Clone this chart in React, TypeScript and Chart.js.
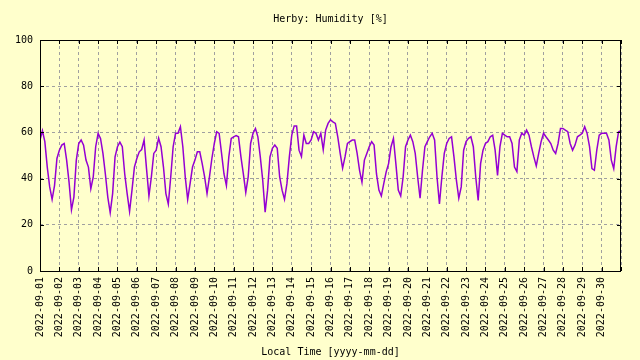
import React, { useEffect, useRef } from "react";
import { Chart, registerables } from "chart.js";

Chart.register(...registerables);

// Date tick labels (one per day, midnight)
const dayLabels = [
  "2022-09-01", "2022-09-02", "2022-09-03", "2022-09-04", "2022-09-05",
  "2022-09-06", "2022-09-07", "2022-09-08", "2022-09-09", "2022-09-10",
  "2022-09-11", "2022-09-12", "2022-09-13", "2022-09-14", "2022-09-15",
  "2022-09-16", "2022-09-17", "2022-09-18", "2022-09-19", "2022-09-20",
  "2022-09-21", "2022-09-22", "2022-09-23", "2022-09-24", "2022-09-25",
  "2022-09-26", "2022-09-27", "2022-09-28", "2022-09-29", "2022-09-30",
];

// Sampling interval of the readings, hours
const sampleHours = 3;

// Relative humidity [%], every 3 hours starting 2022-09-01 00:00
const humidity = [
  56.7, 60.7, 56.0, 45.0, 36.4, 31.0, 37.0, 48.7, // 09-01
  52.3, 54.5, 55.2, 48.0, 38.5, 26.5, 32.0, 48.0, // 09-02
  55.2, 56.7, 54.5, 48.0, 45.0, 35.6, 40.7, 53.8, // 09-03
  59.6, 57.4, 50.9, 42.0, 32.0, 25.3, 33.5, 49.4, // 09-04
  53.8, 55.8, 53.8, 42.0, 33.5, 25.8, 35.0, 45.0, // 09-05
  48.7, 51.6, 52.6, 56.7, 44.3, 32.5, 40.7, 50.9, // 09-06
  52.3, 57.5, 53.8, 45.0, 33.5, 29.0, 40.7, 53.8, // 09-07
  59.6, 59.6, 62.5, 53.8, 40.7, 31.0, 37.8, 45.0, // 09-08
  48.0, 51.6, 51.6, 46.5, 40.7, 33.5, 40.7, 48.7, // 09-09
  55.2, 60.3, 59.6, 50.9, 42.0, 37.0, 49.4, 57.4, // 09-10
  58.1, 58.6, 58.1, 49.4, 42.0, 34.0, 40.7, 55.2, // 09-11
  59.6, 61.7, 58.1, 49.4, 39.3, 25.5, 35.0, 49.4, // 09-12
  53.1, 54.5, 53.1, 40.7, 35.0, 31.0, 37.8, 49.4, // 09-13
  58.8, 62.8, 62.8, 52.3, 49.5, 58.8, 55.2, 55.2, // 09-14
  56.7, 60.3, 59.6, 56.7, 59.6, 52.5, 61.0, 63.9, // 09-15
  65.4, 64.6, 63.9, 58.1, 50.9, 44.5, 49.4, 55.2, // 09-16
  56.0, 56.7, 56.7, 50.9, 43.6, 38.5, 48.0, 50.9, // 09-17
  53.8, 56.0, 54.5, 42.0, 35.0, 32.5, 37.8, 42.9, // 09-18
  46.5, 53.8, 57.4, 46.5, 35.0, 32.5, 40.7, 53.8, // 09-19
  56.7, 58.8, 56.0, 50.9, 40.7, 31.5, 43.6, 53.8, // 09-20
  56.0, 58.1, 59.6, 56.7, 40.7, 29.0, 40.7, 50.9, // 09-21
  55.2, 57.4, 58.1, 49.4, 39.3, 31.5, 36.4, 52.3, // 09-22
  56.0, 57.4, 58.1, 53.8, 40.7, 30.5, 46.5, 52.3, // 09-23
  55.2, 56.0, 58.1, 58.8, 52.3, 41.4, 53.8, 59.6, // 09-24
  58.8, 58.1, 58.1, 55.2, 45.0, 43.0, 56.7, 59.6, // 09-25
  58.8, 61.0, 58.8, 53.8, 49.4, 45.5, 50.9, 56.0, // 09-26
  59.6, 58.1, 56.7, 55.2, 52.3, 50.9, 55.2, 61.7, // 09-27
  61.7, 61.0, 60.3, 55.2, 52.3, 54.5, 58.1, 58.8, // 09-28
  59.6, 62.5, 59.6, 53.8, 44.3, 43.6, 52.3, 58.8, // 09-29
  59.6, 59.6, 59.6, 56.7, 48.0, 44.3, 53.8, 60.3, // 09-30
  60.7, // 10-01 00:00
];

const yTicks = [0, 20, 40, 60, 80, 100];

const titleText = "Herby: Humidity [%]";
const xTitleText = "Local Time [yyyy-mm-dd]";

const BG = "#ffffcc";
const FONT = "DejaVu Sans Mono";

export default function App() {
  const ref = useRef<HTMLCanvasElement | null>(null);

  useEffect(() => {
    if (!ref.current) return;
    const points = humidity.map((v, i) => ({ x: (i * sampleHours) / 24, y: v }));

    const decor = {
      id: "decor",
      beforeDraw(chart: any) {
        const c = chart.ctx;
        c.save();
        c.fillStyle = BG;
        c.fillRect(0, 0, chart.width, chart.height);
        c.restore();
      },
      afterDraw(chart: any) {
        const c = chart.ctx;
        const a = chart.chartArea;
        c.save();
        c.strokeStyle = "#000";
        c.lineWidth = 1;
        c.setLineDash([]);
        c.strokeRect(Math.round(a.left) + 0.5, Math.round(a.top) + 0.5,
          Math.round(a.right - a.left) - 1, Math.round(a.bottom - a.top));
        // inward tick marks
        const ys = chart.scales.y;
        c.beginPath();
        ys.ticks.forEach((t: any) => {
          const py = Math.round(ys.getPixelForValue(t.value)) + 0.5;
          c.moveTo(a.left, py); c.lineTo(a.left + 4, py);
          c.moveTo(a.right, py); c.lineTo(a.right - 4, py);
        });
        const xs = chart.scales.x;
        xs.ticks.forEach((t: any) => {
          const px = Math.round(xs.getPixelForValue(t.value)) + 0.5;
          c.moveTo(px, a.bottom); c.lineTo(px, a.bottom - 4);
          c.moveTo(px, a.top); c.lineTo(px, a.top + 4);
        });
        c.stroke();
        c.fillStyle = "#000";
        c.font = `10px "${FONT}"`;
        c.textAlign = "center";
        c.textBaseline = "middle";
        const cx = (a.left + a.right) / 2;
        c.fillText(titleText, cx, 19);
        c.fillText(xTitleText, cx, 352);
        c.restore();
      },
    };

    const chart = new Chart(ref.current, {
      type: "line",
      data: {
        datasets: [
          {
            data: points,
            borderColor: "#9400d3",
            borderWidth: 1.5,
            pointRadius: 0,
            tension: 0,
            fill: false,
          },
        ],
      },
      options: {
        animation: false,
        responsive: false,
        devicePixelRatio: 1,
        layout: { padding: { left: 0, right: 19, top: 40, bottom: 0 } },
        plugins: { legend: { display: false }, tooltip: { enabled: false }, title: { display: false } },
        scales: {
          x: {
            type: "linear",
            min: 0,
            max: dayLabels.length,
            afterFit: (s: any) => { s.height = 89; },
            afterBuildTicks: (s: any) => {
              s.ticks = Array.from({ length: dayLabels.length + 1 }, (_, i) => ({ value: i }));
            },
            ticks: {
              autoSkip: false,
              minRotation: 90,
              maxRotation: 90,
              padding: 6,
              color: "#000",
              font: { family: FONT, size: 10 },
              callback: (v: any) => dayLabels[Number(v)] ?? "",
            },
            grid: { color: "#a0a0a0", lineWidth: 1, drawTicks: false },
            border: { display: false, dash: [3, 3] },
          },
          y: {
            min: 0,
            max: 100,
            afterFit: (s: any) => { s.width = 40; },
            afterBuildTicks: (s: any) => {
              s.ticks = yTicks.map((v) => ({ value: v }));
            },
            ticks: {
              padding: 7,
              color: "#000",
              font: { family: FONT, size: 10 },
            },
            grid: { color: "#a0a0a0", lineWidth: 1, drawTicks: false },
            border: { display: false, dash: [3, 3] },
          },
        },
      },
      plugins: [decor],
    });
    return () => chart.destroy();
  }, []);

  return (
    <div style={{ position: "fixed", left: 0, top: 0, width: 640, height: 360, background: BG }}>
      <canvas ref={ref} width={640} height={360} style={{ width: 640, height: 360, display: "block" }} />
    </div>
  );
}
